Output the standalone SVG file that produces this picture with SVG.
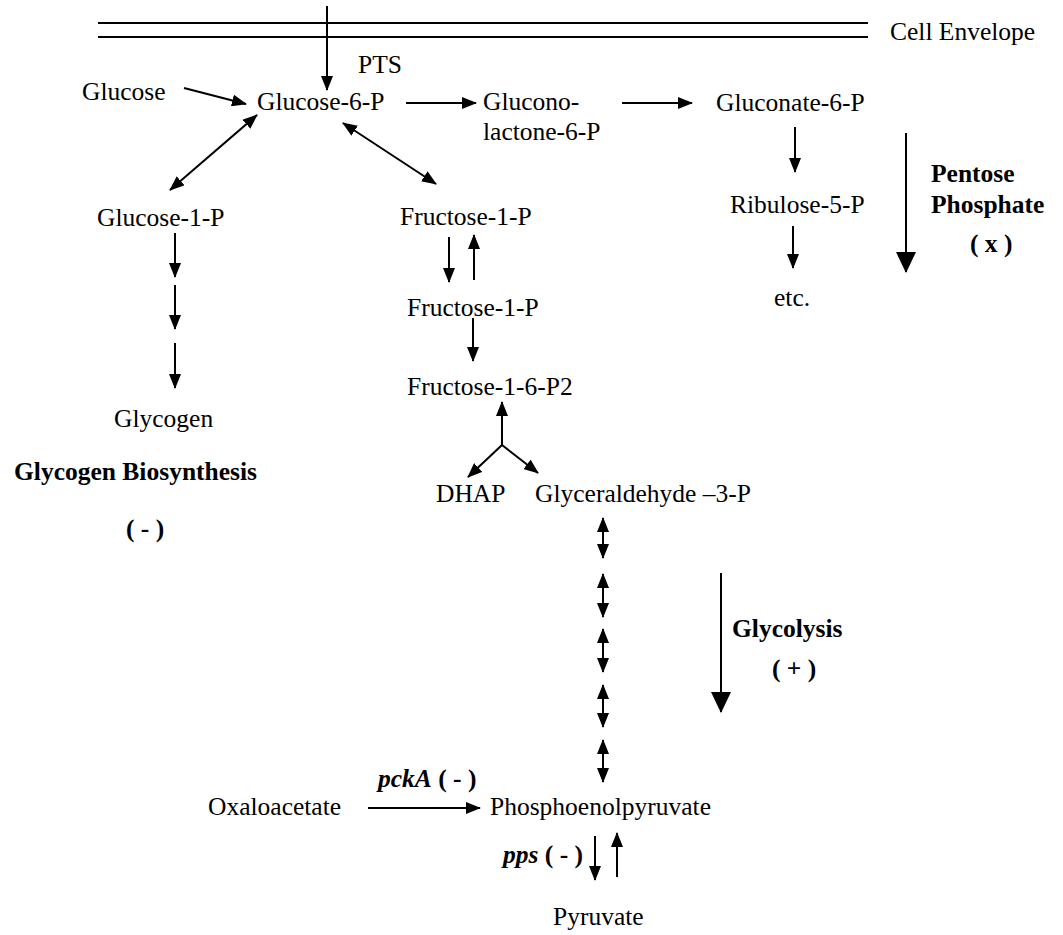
<svg xmlns="http://www.w3.org/2000/svg" width="1063" height="935" viewBox="0 0 1063 935">
<style>
text{font-family:"Liberation Serif","Times New Roman",serif;font-size:25.5px;fill:#000}
.b{font-weight:bold}
.bi{font-weight:bold;font-style:italic}
.c line,.c path{stroke:#000;stroke-width:2;fill:none}
.s{marker-end:url(#ah)}
.d{marker-start:url(#ah);marker-end:url(#ah)}
.g{marker-end:url(#big)}
</style>
<defs>
<marker id="ah" markerUnits="userSpaceOnUse" markerWidth="15" markerHeight="12" refX="14" refY="6" orient="auto-start-reverse">
<path d="M0,0 L15,6 L0,12 z" fill="#000"/>
</marker>
<marker id="big" markerUnits="userSpaceOnUse" markerWidth="21" markerHeight="20" refX="20" refY="10" orient="auto">
<path d="M0,0 L21,10 L0,20 z" fill="#000"/>
</marker>
</defs>
<rect width="1063" height="935" fill="#fff"/>
<g id="envelope">
<line x1="98" y1="23" x2="868" y2="23" stroke="#000" stroke-width="2"/>
<line x1="98" y1="37" x2="868" y2="37" stroke="#000" stroke-width="2"/>
<text x="890" y="40">Cell Envelope</text>
</g>
<g id="pts"><text x="358" y="73">PTS</text></g>
<g id="glucose"><text x="82" y="100">Glucose</text></g>
<g id="g6p"><text x="257" y="110">Glucose-6-P</text></g>
<g id="gluconolactone"><text x="483" y="110">Glucono-</text><text x="483" y="140">lactone-6-P</text></g>
<g id="gluconate"><text x="716" y="111">Gluconate-6-P</text></g>
<g id="ribulose"><text x="730" y="213">Ribulose-5-P</text></g>
<g id="etc"><text x="774" y="306">etc.</text></g>
<g id="pentose"><text class="b" x="931" y="182">Pentose</text><text class="b" x="931" y="213">Phosphate</text><text class="b" x="970" y="252">( x )</text></g>
<g id="g1p"><text x="97" y="226">Glucose-1-P</text></g>
<g id="f1p-a"><text x="400" y="225">Fructose-1-P</text></g>
<g id="f1p-b"><text x="407" y="316">Fructose-1-P</text></g>
<g id="f16p2"><text x="407" y="395">Fructose-1-6-P2</text></g>
<g id="dhap"><text x="436" y="502">DHAP</text></g>
<g id="g3p"><text x="535" y="502">Glyceraldehyde –3-P</text></g>
<g id="glycolysis"><text class="b" x="732" y="637">Glycolysis</text><text class="b" x="772" y="677">( + )</text></g>
<g id="glycogen"><text x="114" y="427">Glycogen</text></g>
<g id="glycogen-bio"><text class="b" x="14" y="480">Glycogen Biosynthesis</text><text class="b" x="126" y="537">( - )</text></g>
<g id="oxaloacetate"><text x="208" y="815">Oxaloacetate</text></g>
<g id="pcka"><text x="378" y="787"><tspan class="bi">pckA</tspan><tspan class="b"> ( - )</tspan></text></g>
<g id="pep"><text x="490" y="815">Phosphoenolpyruvate</text></g>
<g id="pps"><text x="503" y="863"><tspan class="bi">pps</tspan><tspan class="b"> ( - )</tspan></text></g>
<g id="pyruvate"><text x="553" y="925">Pyruvate</text></g>
<g id="connectors" class="c">
<line class="s" x1="327" y1="6" x2="327" y2="90"/>
<line class="s" x1="184" y1="88" x2="246" y2="104"/>
<line class="s" x1="406" y1="103" x2="476" y2="103"/>
<line class="s" x1="622" y1="103" x2="692" y2="103"/>
<line class="s" x1="795" y1="127" x2="795" y2="172"/>
<line class="s" x1="793" y1="226" x2="793" y2="268"/>
<line class="g" x1="906" y1="133" x2="906" y2="272"/>
<line class="d" x1="257" y1="115" x2="170" y2="190"/>
<line class="d" x1="343" y1="123" x2="436" y2="184"/>
<line class="s" x1="449" y1="237" x2="449" y2="282"/>
<line class="s" x1="474" y1="280" x2="474" y2="235"/>
<line class="s" x1="473" y1="318" x2="473" y2="361"/>
<line class="s" x1="502" y1="445" x2="502" y2="402"/>
<line class="s" x1="502" y1="445" x2="468" y2="477"/>
<line class="s" x1="502" y1="445" x2="538" y2="473"/>
<line class="d" x1="603" y1="518" x2="603" y2="558"/>
<line class="d" x1="603" y1="574" x2="603" y2="617"/>
<line class="d" x1="603" y1="629" x2="603" y2="672"/>
<line class="d" x1="603" y1="685" x2="603" y2="727"/>
<line class="d" x1="603" y1="740" x2="603" y2="782"/>
<line class="g" x1="721" y1="573" x2="721" y2="712"/>
<line class="s" x1="175" y1="233" x2="175" y2="277"/>
<line class="s" x1="175" y1="285" x2="175" y2="329"/>
<line class="s" x1="175" y1="343" x2="175" y2="388"/>
<line class="s" x1="368" y1="808" x2="480" y2="808"/>
<line class="s" x1="595" y1="836" x2="595" y2="880"/>
<line class="s" x1="617" y1="877" x2="617" y2="833"/>
</g>
</svg>
